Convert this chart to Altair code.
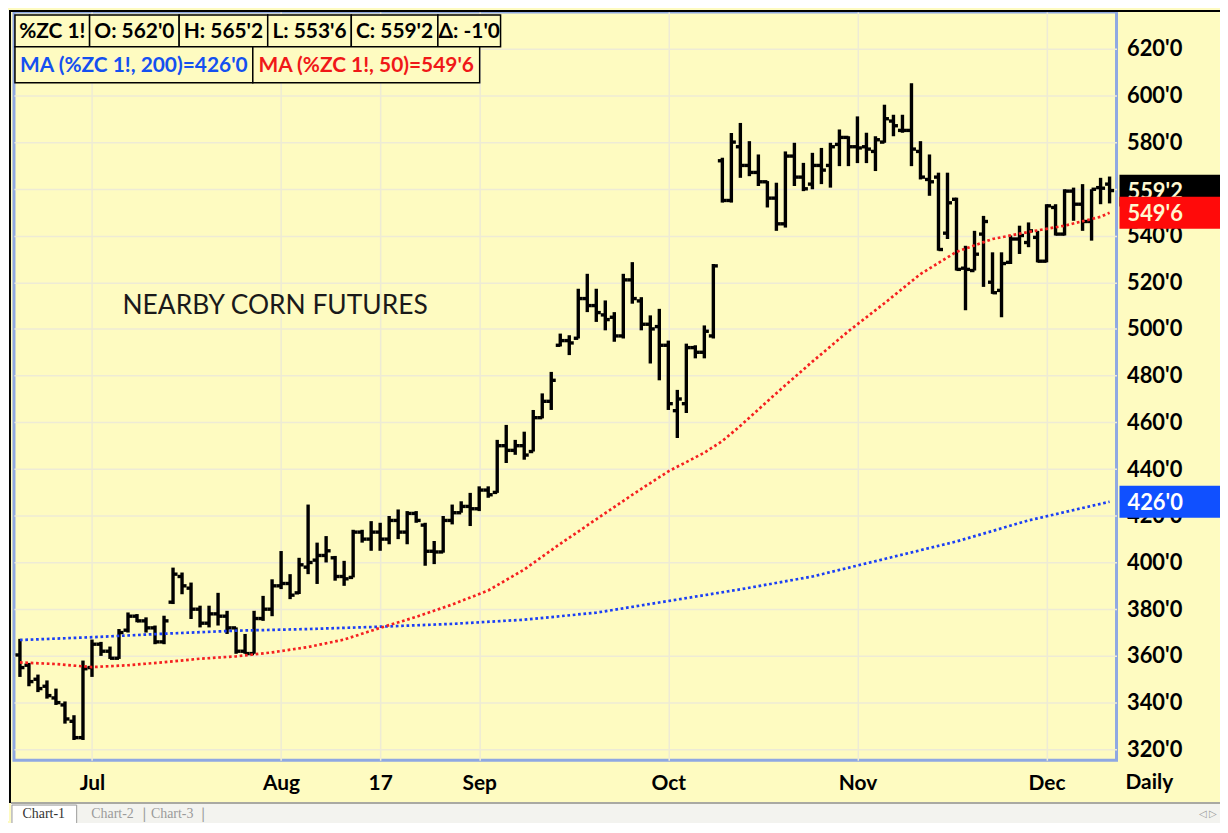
import altair as alt
import pandas as pd

# ---------------- data ----------------
opens = [360.4, 356.0, 350.0, 347.0, 342.0, 339.0, 332.0, 325.0, 355.0, 365.0,
         362.0, 359.0, 371.0, 377.0, 375.0, 372.0, 366.0, 383.0, 394.0, 389.0,
         380.0, 374.0, 378.0, 377.0, 372.0, 362.0, 361.0, 376.0, 380.0, 390.0,
         391.0, 387.0, 398.0, 401.0, 403.0, 402.0, 394.0, 393.6, 413.0, 410.0,
         413.0, 410.0, 418.0, 413.0, 421.0, 416.0, 404.8, 404.5, 418.0, 421.3,
         424.0, 423.0, 431.0, 430.0, 450.0, 448.0, 450.0, 447.5, 462.0, 469.0,
         493.0, 495.0, 496.0, 513.0, 510.0, 506.0, 505.0, 497.0, 521.0, 512.0,
         502.0, 501.0, 493.0, 465.0, 468.0, 492.0, 490.0, 497.0, 572.0, 555.0,
         578.0, 570.0, 567.0, 563.0, 556.0, 545.0, 574.0, 565.0, 562.0, 570.0,
         570.0, 579.0, 582.0, 578.0, 578.0, 576.0, 580.0, 589.0, 585.0, 585.0,
         576.0, 564.0, 565.0, 541.0, 555.5, 526.0, 525.0, 540.6, 520.0, 516.5,
         528.5, 538.5, 537.0, 539.2, 529.0, 552.0, 540.6, 559.0, 553.4, 546.0,
         560.5, 562.0]
highs = [367.3, 357.0, 352.0, 349.5, 346.0, 340.5, 334.6, 358.0, 367.0, 366.0,
         364.0, 371.5, 378.6, 377.9, 376.5, 373.0, 377.2, 397.8, 395.7, 391.4,
         381.5, 381.5, 387.0, 379.3, 372.2, 369.4, 379.3, 385.7, 392.8, 404.9,
         395.0, 402.0, 424.8, 408.5, 411.3, 402.8, 400.7, 414.0, 414.0, 417.7,
         417.0, 419.9, 422.7, 422.0, 422.0, 417.0, 409.2, 419.9, 424.8, 426.2,
         429.8, 432.6, 432.6, 452.5, 458.9, 452.5, 456.0, 465.3, 472.4, 481.6,
         498.0, 497.3, 517.2, 523.6, 517.2, 512.2, 507.2, 523.6, 528.6, 513.6,
         505.8, 508.6, 495.0, 473.9, 493.7, 493.0, 501.5, 527.8, 573.3, 583.9,
         588.2, 580.4, 574.7, 563.3, 562.6, 576.0, 579.7, 571.1, 575.4, 577.5,
         579.7, 585.4, 582.5, 591.0, 584.0, 582.5, 596.0, 591.7, 591.7, 605.2,
         580.4, 574.7, 566.9, 566.9, 556.2, 535.6, 542.0, 548.4, 532.8, 532.8,
         540.0, 544.2, 545.6, 542.0, 553.4, 553.4, 559.8, 560.5, 562.0, 559.8,
         564.7, 565.25]
lows = [351.0, 347.0, 344.5, 341.7, 339.0, 331.0, 324.0, 324.0, 351.0, 360.0,
        358.7, 358.7, 370.0, 374.4, 370.0, 365.0, 365.0, 382.2, 386.4, 375.8,
        372.2, 372.2, 373.0, 369.4, 360.9, 360.9, 360.9, 375.0, 377.0, 388.6,
        384.3, 386.5, 395.0, 390.8, 400.0, 392.2, 390.0, 393.6, 408.5, 405.0,
        405.0, 407.8, 410.0, 407.8, 417.0, 398.6, 399.3, 404.2, 416.3, 421.3,
        415.6, 422.0, 427.7, 429.8, 442.6, 446.1, 444.0, 447.5, 461.7, 465.3,
        492.5, 488.8, 495.9, 507.2, 503.0, 499.4, 494.5, 495.9, 510.8, 499.4,
        485.2, 478.0, 465.3, 453.3, 464.0, 487.4, 487.4, 495.9, 554.1, 554.1,
        564.7, 565.4, 561.2, 552.0, 542.0, 543.4, 561.2, 559.0, 559.8, 562.0,
        560.5, 569.7, 569.7, 571.0, 571.0, 567.6, 579.7, 582.5, 584.0, 569.7,
        564.0, 557.0, 533.5, 538.5, 525.0, 508.0, 525.0, 518.0, 515.0, 505.0,
        527.8, 532.1, 535.0, 528.5, 528.5, 540.0, 540.0, 546.3, 542.0, 537.8,
        553.4, 553.75]
closes = [355.0, 349.0, 346.0, 343.0, 340.0, 333.0, 325.0, 354.5, 365.0, 362.0,
          359.0, 370.0, 377.0, 375.0, 372.0, 366.0, 375.0, 395.0, 390.0, 380.0,
          374.0, 378.0, 377.0, 372.0, 362.0, 361.0, 376.0, 380.0, 390.0, 391.0,
          386.0, 399.0, 400.0, 403.0, 405.0, 394.0, 393.0, 413.0, 410.0, 413.0,
          410.0, 418.0, 413.0, 421.0, 418.0, 404.8, 404.5, 418.0, 421.3, 424.0,
          423.0, 431.0, 429.0, 450.0, 448.0, 450.0, 446.0, 462.0, 469.0, 478.0,
          495.0, 494.0, 513.0, 510.0, 507.0, 504.0, 497.0, 521.0, 513.0, 502.0,
          500.0, 493.0, 468.0, 470.0, 492.0, 490.0, 499.0, 527.0, 555.0, 580.0,
          570.0, 567.0, 563.0, 556.0, 545.0, 574.0, 565.0, 560.0, 570.0, 568.0,
          578.0, 582.0, 578.0, 577.5, 577.0, 581.0, 590.0, 587.0, 585.0, 577.0,
          565.0, 563.0, 534.0, 554.0, 525.5, 525.5, 532.0, 546.0, 515.5, 528.0,
          538.5, 540.0, 542.0, 529.0, 552.7, 540.6, 559.0, 553.4, 546.0, 559.8,
          560.25, 559.25]

# moving averages read at selected bar indices
ma50_idx = [0, 4, 8, 12, 16, 20, 24, 28, 32, 36, 40, 44, 48, 52, 56, 60, 64, 68,
            72, 76, 78, 80, 82, 84, 88, 92, 96, 100, 104, 108, 112, 116, 120, 121]
ma50_val = [357.2, 356.5, 355.2, 356.0, 357.3, 358.8, 359.8, 361.5, 363.8, 367.0,
            372.0, 376.7, 382.0, 388.0, 397.0, 408.0, 418.5, 429.0, 439.0, 447.0,
            452.0, 458.5, 465.5, 472.5, 486.0, 499.0, 511.0, 523.5, 533.0, 538.5,
            541.5, 544.2, 548.0, 549.75]
ma200_idx = [0, 8, 16, 24, 32, 40, 48, 56, 64, 72, 80, 88, 96, 104, 112, 121]
ma200_val = [366.8, 368.0, 369.5, 370.8, 371.5, 372.5, 373.7, 375.5, 378.5, 383.5,
             388.5, 394.0, 401.5, 409.0, 418.0, 426.0]

month_ticks = [8, 29, 40, 51, 72, 93, 114]
month_labels = ["Jul", "Aug", "17", "Sep", "Oct", "Nov", "Dec"]
price_ticks = [320, 340, 360, 380, 400, 420, 440, 460, 480, 500, 520, 540, 560, 580, 600, 620]
symbol = "%ZC 1!"

# ---------------- helpers ----------------
YELLOW = "#FEFBC1"
GRID = "#EEEBD5"
FONT = "Lato"
FS = 21
AFS = 22


def eighths(v):
    neg = v < 0
    v = abs(v)
    whole = int(v)
    frac = int(round((v - whole) * 8))
    return ("-" if neg else "") + f"{whole}'{frac}"


n = len(closes)
df = pd.DataFrame({"i": list(range(n)), "open": opens, "high": highs,
                   "low": lows, "close": closes})
ma50 = pd.DataFrame({"i": ma50_idx, "v": ma50_val})
ma200 = pd.DataFrame({"i": ma200_idx, "v": ma200_val})

xs = alt.Scale(domain=[-0.663, 121.77], nice=False, zero=False)
ys = alt.Scale(domain=[315.3, 635.7], nice=False, zero=False)

lbl = "''"
for t, l in zip(reversed(month_ticks), reversed(month_labels)):
    lbl = f"datum.value == {t} ? '{l}' : ({lbl})"

x_axis = alt.Axis(values=month_ticks, labelExpr=lbl, grid=True, gridColor=GRID,
                  gridWidth=1.5, ticks=False, domain=False, labelFont=FONT,
                  labelFontSize=FS, labelFontWeight="bold", labelColor="black",
                  labelPadding=12, labelOverlap=False, title=None)
y_axis = alt.Axis(orient="right", values=price_ticks,
                  labelExpr="format(datum.value, 'd') + \"'0\"", grid=True,
                  gridColor=GRID, gridWidth=1.5, ticks=False, domain=False,
                  labelFont=FONT, labelFontSize=AFS, labelFontWeight="bold",
                  labelColor="black", labelPadding=10, labelOverlap=False, title=None)


def X(f):
    return alt.X(f, scale=xs, axis=x_axis)


def Y(f):
    return alt.Y(f, scale=ys, axis=y_axis)


base = alt.Chart(df)
hl = base.mark_rule(color="black", strokeWidth=3.4).encode(
    x=X("i:Q"), y=Y("low:Q"), y2="high:Q")
otick = base.transform_calculate(xo="datum.i - 0.5").mark_rule(
    color="black", strokeWidth=3.4).encode(
    x=X("xo:Q"), x2="i:Q", y=Y("open:Q"))
ctick = base.transform_calculate(xc="datum.i + 0.5").mark_rule(
    color="black", strokeWidth=3.4).encode(
    x=X("i:Q"), x2="xc:Q", y=Y("close:Q"))

ma200_line = alt.Chart(ma200).mark_line(color="#1B3FF5", strokeWidth=2.7,
                                        strokeDash=[2.7, 2.7]).encode(
    x=X("i:Q"), y=Y("v:Q"))
ma50_line = alt.Chart(ma50).mark_line(color="#F52020", strokeWidth=2.7,
                                      strokeDash=[2.7, 2.7]).encode(
    x=X("i:Q"), y=Y("v:Q"))

ONE = alt.Data(values=[{}])


def box(x1, x2, y1, y2, fill=YELLOW, stroke="black", sw=1.5):
    return alt.Chart(ONE).mark_rect(fill=fill, stroke=stroke, strokeWidth=sw).encode(
        x=alt.value(x1), x2=alt.value(x2), y=alt.value(y1), y2=alt.value(y2))


def label(txt, x, y, size=FS, color="black", weight="bold", align="center", font=FONT):
    return alt.Chart(ONE).mark_text(text=txt, fontSize=size, color=color,
                                    fontWeight=weight, align=align,
                                    baseline="middle", font=font).encode(
        x=alt.value(x), y=alt.value(y))


def flag(value, text, color, tcolor):
    d = pd.DataFrame({"v": [value], "t": [text]})
    r = alt.Chart(d).mark_rect(color=color, yOffset=-16, y2Offset=16).encode(
        x=alt.value(1111), x2=alt.value(1214), y=Y("v:Q"), y2="v:Q")
    t = alt.Chart(d).mark_text(align="left", baseline="middle", fontSize=AFS,
                               fontWeight="bold", font=FONT, color=tcolor, dy=1).encode(
        x=alt.value(1119), y=Y("v:Q"), text="t:N")
    return [r, t]


layers = [hl, otick, ctick, ma200_line, ma50_line]
layers += flag(closes[-1], eighths(closes[-1]), "black", "#FFF8D0")
layers += flag(ma50_val[-1], eighths(ma50_val[-1]), "#FF0A0A", "#FFF8D0")
layers += flag(ma200_val[-1], eighths(ma200_val[-1]), "#1050FF", "white")

# header boxes
row1 = [symbol, "O: " + eighths(opens[-1]), "H: " + eighths(highs[-1]),
        "L: " + eighths(lows[-1]), "C: " + eighths(closes[-1]),
        "\u0394: " + eighths(closes[-1] - closes[-2])]
row1_edges = [1, 76, 166, 255, 339, 426, 489]
for k, txt in enumerate(row1):
    layers.append(box(row1_edges[k], row1_edges[k + 1], 3, 35))
    layers.append(label(txt, (row1_edges[k] + row1_edges[k + 1]) / 2, 20))
row2 = [(f"MA ({symbol}, 200)=" + eighths(ma200_val[-1]), "#1450F0"),
        (f"MA ({symbol}, 50)=" + eighths(ma50_val[-1]), "#F01818")]
row2_edges = [1, 240, 468]
for k, (txt, col) in enumerate(row2):
    layers.append(box(row2_edges[k], row2_edges[k + 1], 35, 71))
    layers.append(label(txt, (row2_edges[k] + row2_edges[k + 1]) / 2, 54, color=col))

layers.append(label("NEARBY CORN FUTURES", 109, 295, size=26.5, color="#1A1A1A",
                    weight="normal", align="left"))
layers.append(label("Daily", 1141, 775))

# frame line at left / top
layers.append(box(-6, -5, -2, 813, fill="white", stroke="white", sw=0))
layers.append(box(-5, -3, -2, 795, fill="black", stroke="black", sw=0))
layers.append(box(-5, 1214, -2, 0, fill="black", stroke="black", sw=0))

# tab bar at the bottom
layers.append(box(-3, 1214, 795, 815, fill="#F3F3EF", stroke="#F3F3EF", sw=0))
layers.append(box(-3, 1214, 794, 796, fill="#A9A9A2", stroke="#A9A9A2", sw=0))
layers.append(box(-2, 63, 797, 816, fill="white", stroke="#9A9A9A", sw=1))
layers.append(label("Chart-1", 30, 806, size=14, color="#333333", weight="normal",
                    font="Liberation Sans Narrow"))
layers.append(label("Chart-2", 99, 806, size=14, color="#9A9A9A", weight="normal",
                    font="Liberation Sans Narrow"))
layers.append(label("|", 131, 806, size=15, color="#9A9A9A", weight="normal"))
layers.append(label("Chart-3", 159, 806, size=14, color="#9A9A9A", weight="normal",
                    font="Liberation Sans Narrow"))
layers.append(label("|", 190, 806, size=15, color="#9A9A9A", weight="normal"))
layers.append(label("\u25C1 \u25B7", 1200, 806, size=10, color="#9A9A9A", weight="normal"))

chart = alt.layer(*layers).properties(
    width=1108, height=752,
    autosize=alt.AutoSizeParams(type="none"),
    padding={"left": 6, "top": 2, "right": 104, "bottom": 61},
    background=YELLOW,
).configure_view(fill=YELLOW, stroke="#8FA8E2", strokeWidth=3)

chart.save("out.html", embed_options={"renderer": "svg", "actions": False})
